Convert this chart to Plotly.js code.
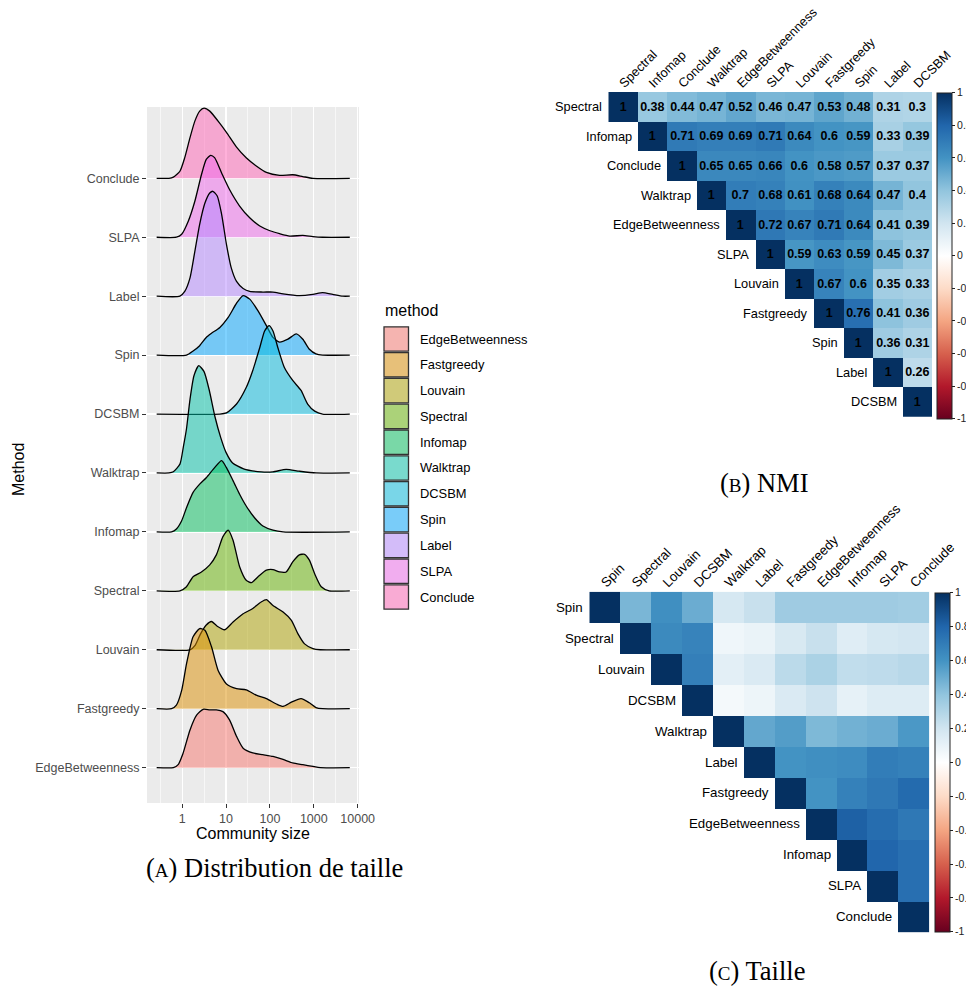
<!DOCTYPE html>
<html><head><meta charset="utf-8">
<script src="https://cdn.plot.ly/plotly-3.0.1.min.js"></script>
<style>html,body{margin:0;padding:0;background:#fff;} #chart{width:966px;height:987px;}</style>
</head><body><div id="chart"></div>
<script>
// ---------- (A) ridgeline data ----------
const methods = ['EdgeBetweenness','Fastgreedy','Louvain','Spectral','Infomap','Walktrap','DCSBM','Spin','Label','SLPA','Conclude'];
const methodColors = ['#F8766D','#DB8E00','#AEA200','#64B200','#00BD5C','#00C1A7','#00BADE','#00A6FF','#B385FF','#EF67EB','#FF63B6'];
const sizeTickVals = [1, 10, 100, 1000, 10000];
const sizeTickText = ['1', '10', '100', '1000', '10000'];
const sizeMinorVals = [0.316, 3.16, 31.6, 316, 3162];

// log10(community size) sample positions and ridge heights
const logEdgeBetweenness = [-0.58,-0.2,-0.09,0.02,0.18,0.33,0.48,0.63,0.78,0.93,1.08,1.24,1.39,1.61,1.84,2.07,2.3,2.52,2.75,2.98,3.15,3.82];
const denEdgeBetweenness = [0,0,0.05,0.24,0.64,0.89,0.99,0.98,0.98,0.95,0.81,0.53,0.33,0.25,0.22,0.19,0.14,0.08,0.05,0.02,0,0];
const logFastgreedy = [-0.58,-0.24,-0.13,-0.01,0.1,0.25,0.4,0.52,0.67,0.82,1.01,1.24,1.46,1.69,1.92,2.15,2.3,2.49,2.71,2.9,3.05,3.2,3.82];
const denFastgreedy = [0,0,0.06,0.31,0.76,1.22,1.36,1.33,1.05,0.65,0.42,0.34,0.32,0.23,0.17,0.08,0.04,0.11,0.17,0.10,0.02,0,0];
const logLouvain = [-0.58,0.18,0.3,0.42,0.55,0.67,0.8,0.97,1.16,1.39,1.61,1.8,1.92,2.07,2.3,2.49,2.64,2.79,2.98,3.15,3.82];
const denLouvain = [0,0,0.08,0.27,0.42,0.48,0.40,0.34,0.47,0.61,0.70,0.81,0.85,0.75,0.64,0.50,0.27,0.10,0.02,0,0];
const logSpectral = [-0.58,-0.05,0.1,0.25,0.44,0.63,0.78,0.93,1.05,1.16,1.31,1.46,1.58,1.73,1.92,2.07,2.22,2.37,2.52,2.67,2.79,2.9,3.02,3.17,3.35,3.82];
const denSpectral = [0,0,0.07,0.24,0.32,0.44,0.61,0.92,1.03,0.86,0.41,0.18,0.14,0.24,0.35,0.36,0.32,0.32,0.49,0.61,0.62,0.52,0.29,0.07,0,0];
const logInfomap = [-0.58,-0.24,-0.13,-0.01,0.1,0.25,0.4,0.55,0.74,0.9,1.01,1.16,1.31,1.46,1.65,1.84,2.07,2.3,3.82];
const denInfomap = [0,0,0.05,0.19,0.41,0.67,0.81,0.92,1.09,1.21,1.09,0.87,0.64,0.44,0.24,0.10,0.03,0,0];
const logWalktrap = [-0.58,-0.3,-0.2,-0.05,0.03,0.1,0.18,0.27,0.38,0.5,0.62,0.75,0.88,1.0,1.15,1.4,1.8,2.07,2.37,2.67,3.05,3.82];
const denWalktrap = [0,0,0.02,0.15,0.45,0.75,1.25,1.65,1.82,1.72,1.40,0.95,0.60,0.35,0.17,0.07,0.02,0.02,0.06,0.03,0,0];
const logDCSBM = [-0.58,0.86,1.01,1.24,1.46,1.61,1.77,1.88,1.98,2.07,2.18,2.33,2.52,2.71,2.86,3.02,3.2,3.82];
const denDCSBM = [0,0,0.02,0.17,0.45,0.74,1.13,1.41,1.50,1.41,1.13,0.79,0.57,0.40,0.17,0.05,0,0];
const logSpin = [-0.58,0.1,0.25,0.4,0.55,0.67,0.86,1.05,1.24,1.39,1.54,1.73,1.92,2.07,2.22,2.41,2.6,2.75,2.9,3.05,3.2,3.82];
const denSpin = [0,0,0.07,0.16,0.30,0.37,0.47,0.64,0.88,1.01,0.95,0.75,0.50,0.30,0.22,0.27,0.36,0.27,0.10,0.02,0,0];
const logLabel = [-0.58,-0.05,0.06,0.18,0.29,0.4,0.52,0.63,0.7,0.8,0.9,1.01,1.12,1.24,1.39,1.54,1.84,2.07,2.3,2.67,2.98,3.2,3.43,3.66,3.82];
const denLabel = [0,0,0.08,0.31,0.76,1.22,1.58,1.75,1.78,1.70,1.39,0.88,0.48,0.25,0.13,0.08,0.07,0.07,0.04,0.01,0.03,0.06,0.03,0,0];
const logSLPA = [-0.58,-0.13,-0.01,0.14,0.29,0.44,0.55,0.65,0.74,0.9,1.08,1.31,1.54,1.77,2.0,2.22,2.45,2.75,2.98,3.2,3.82];
const denSLPA = [0,0,0.05,0.27,0.61,1.06,1.32,1.39,1.35,1.09,0.81,0.53,0.33,0.19,0.11,0.06,0.02,0.03,0.01,0,0];
const logConclude = [-0.58,-0.3,-0.2,-0.05,0.06,0.18,0.29,0.4,0.5,0.63,0.82,1.01,1.24,1.46,1.69,1.92,2.22,2.52,2.75,2.98,3.82];
const denConclude = [0,0,0.02,0.12,0.35,0.69,0.97,1.14,1.19,1.14,0.97,0.78,0.53,0.35,0.21,0.10,0.05,0.06,0.03,0,0];

// ---------- (B) NMI ----------
const nmiOrder = ['Spectral','Infomap','Conclude','Walktrap','EdgeBetweenness','SLPA','Louvain','Fastgreedy','Spin','Label','DCSBM'];
const nmiUpper = [
  [1,0.38,0.44,0.47,0.52,0.46,0.47,0.53,0.48,0.31,0.3],
  [1,0.71,0.69,0.69,0.71,0.64,0.6,0.59,0.33,0.39],
  [1,0.65,0.65,0.66,0.6,0.58,0.57,0.37,0.37],
  [1,0.7,0.68,0.61,0.68,0.64,0.47,0.4],
  [1,0.72,0.67,0.71,0.64,0.41,0.39],
  [1,0.59,0.63,0.59,0.45,0.37],
  [1,0.67,0.6,0.35,0.33],
  [1,0.76,0.41,0.36],
  [1,0.36,0.31],
  [1,0.26],
  [1]
];

// ---------- (C) Taille ----------
const tailleOrder = ['Spin','Spectral','Louvain','DCSBM','Walktrap','Label','Fastgreedy','EdgeBetweenness','Infomap','SLPA','Conclude'];
const tailleUpper = [
  [1,0.46,0.62,0.5,0.18,0.23,0.36,0.36,0.36,0.36,0.35],
  [1,0.64,0.67,0.07,0.09,0.17,0.23,0.14,0.18,0.19],
  [1,0.69,0.12,0.16,0.27,0.32,0.25,0.26,0.28],
  [1,0.05,0.08,0.16,0.21,0.11,0.15,0.15],
  [1,0.52,0.56,0.45,0.48,0.5,0.58],
  [1,0.6,0.62,0.63,0.7,0.68],
  [1,0.6,0.68,0.72,0.78],
  [1,0.82,0.77,0.72],
  [1,0.8,0.76],
  [1,0.76],
  [1]
];

const corrTickVals = [1,0.8,0.6,0.4,0.2,0,-0.2,-0.4,-0.6,-0.8,-1];
const corrTickText = ['1','0.8','0.6','0.4','0.2','0','-0.2','-0.4','-0.6','-0.8','-1'];
const rdbu = [[0,'#67001F'],[0.1,'#B2182B'],[0.2,'#D6604D'],[0.3,'#F4A582'],[0.4,'#FDDBC7'],[0.5,'#FFFFFF'],
              [0.6,'#D1E5F0'],[0.7,'#92C5DE'],[0.8,'#4393C3'],[0.9,'#2166AC'],[1,'#053061']];

// ---------- helpers ----------
const W = 966, H = 987;
const PX = x => x / W, PY = y => 1 - y / H;
function rgba(hex, a) {
  const n = parseInt(hex.slice(1), 16);
  return `rgba(${(n>>16)&255},${(n>>8)&255},${n&255},${a})`;
}
function fullMatrix(upper) {
  const n = upper.length;
  return upper.map((row, i) => {
    const r = new Array(n).fill(null);
    row.forEach((v, k) => { r[i + k] = v; });
    return r;
  });
}
const ridgeLog = {EdgeBetweenness: logEdgeBetweenness, Fastgreedy: logFastgreedy, Louvain: logLouvain, Spectral: logSpectral,
  Infomap: logInfomap, Walktrap: logWalktrap, DCSBM: logDCSBM, Spin: logSpin, Label: logLabel, SLPA: logSLPA, Conclude: logConclude};
const ridgeDen = {EdgeBetweenness: denEdgeBetweenness, Fastgreedy: denFastgreedy, Louvain: denLouvain, Spectral: denSpectral,
  Infomap: denInfomap, Walktrap: denWalktrap, DCSBM: denDCSBM, Spin: denSpin, Label: denLabel, SLPA: denSLPA, Conclude: denConclude};

const FONT = 'Liberation Sans, Arial, Helvetica, sans-serif';
const SERIF = 'Liberation Serif, Times New Roman, serif';

const traces = [];
// ridges drawn from top (Conclude) to bottom so lower ridges overlap upper ones
for (let i = methods.length - 1; i >= 0; i--) {
  const m = methods[i];
  const base = i + 1;
  traces.push({
    type: 'scatter', mode: 'lines', xaxis: 'x', yaxis: 'y',
    x: ridgeLog[m].map(v => Math.pow(10, v)),
    y: ridgeDen[m].map(v => base + v),
    fill: 'toself', fillcolor: rgba(methodColors[i], 0.5),
    line: {color: '#000', width: 1.3, shape: 'spline', smoothing: 0.6},
    hoverinfo: 'skip', name: m, showlegend: false
  });
}

function heat(order, upper, xa, ya, showText, cb) {
  return {
    type: 'heatmap', xaxis: xa, yaxis: ya,
    x: order, y: order, z: fullMatrix(upper),
    zmin: -1, zmax: 1, colorscale: rdbu,
    texttemplate: showText ? '<b>%{z}</b>' : '',
    textfont: {family: FONT, size: 12.5, color: '#000'},
    hoverinfo: 'skip',
    colorbar: Object.assign({
      xanchor: 'left', xpad: 0, ypad: 0, yanchor: 'middle',
      lenmode: 'pixels', thicknessmode: 'pixels', thickness: 15,
      outlinewidth: 1, outlinecolor: '#222',
      tickmode: 'array', tickvals: corrTickVals, ticktext: corrTickText,
      ticks: 'outside', ticklen: 3, tickcolor: '#222',
      tickfont: {family: FONT, size: 10.5, color: '#222'}
    }, cb)
  };
}
traces.push(heat(nmiOrder, nmiUpper, 'x2', 'y2', true,
  {x: PX(937.3), y: PY(255.7), len: 326}));
traces.push(heat(tailleOrder, tailleUpper, 'x3', 'y3', false,
  {x: PX(935), y: PY(762.3), len: 339}));

const annotations = [];
const shapes = [];

// ridge panel background
shapes.push({type: 'rect', xref: 'x domain', yref: 'y domain', x0: 0, x1: 1, y0: 0, y1: 1,
  fillcolor: '#EBEBEB', line: {width: 0}, layer: 'below'});

// axis titles for (A)
annotations.push({xref: 'paper', yref: 'paper', x: PX(253), y: PY(833), text: 'Community size',
  showarrow: false, font: {family: FONT, size: 16, color: '#000'}, xanchor: 'center', yanchor: 'middle'});
annotations.push({xref: 'paper', yref: 'paper', x: PX(18), y: PY(470), text: 'Method', textangle: -90,
  showarrow: false, font: {family: FONT, size: 16, color: '#000'}, xanchor: 'center', yanchor: 'middle'});

// legend for (A)
annotations.push({xref: 'paper', yref: 'paper', x: PX(383), y: PY(310), text: 'method',
  showarrow: false, font: {family: FONT, size: 16, color: '#000'}, xanchor: 'left', yanchor: 'middle'});
methods.forEach((m, i) => {
  const yc = 339 + i * 25.8;
  shapes.push({type: 'rect', xref: 'paper', yref: 'paper', x0: PX(384), x1: PX(408.5), y0: PY(yc + 12.2), y1: PY(yc - 12.2),
    fillcolor: '#F2F2F2', line: {width: 0}});
  shapes.push({type: 'rect', xref: 'paper', yref: 'paper', x0: PX(384), x1: PX(408.5), y0: PY(yc + 12.2), y1: PY(yc - 12.2),
    fillcolor: rgba(methodColors[i], 0.5), line: {color: '#333', width: 1.3}});
  annotations.push({xref: 'paper', yref: 'paper', x: PX(418), y: PY(yc), text: m,
    showarrow: false, font: {family: FONT, size: 12.9, color: '#000'}, xanchor: 'left', yanchor: 'middle'});
});

// staircase row labels for heatmaps
nmiOrder.forEach((m, i) => annotations.push({xref: 'x2', yref: 'y2', x: i - 0.5, y: i, text: m, xshift: -4,
  showarrow: false, font: {family: FONT, size: 12.8, color: '#000'}, xanchor: 'right', yanchor: 'middle'}));
tailleOrder.forEach((m, i) => annotations.push({xref: 'x3', yref: 'y3', x: i - 0.5, y: i, text: m, xshift: -4,
  showarrow: false, font: {family: FONT, size: 13.3, color: '#000'}, xanchor: 'right', yanchor: 'middle'}));

// captions
const cap = (x, y, letter, rest) => annotations.push({xref: 'paper', yref: 'paper', x: PX(x), y: PY(y),
  text: '(<span style="font-size:19px">' + letter + '</span>) ' + rest,
  showarrow: false, font: {family: SERIF, size: 26.5, color: '#000'}, xanchor: 'center', yanchor: 'middle'});
cap(274, 868, 'A', 'Distribution de taille');
cap(764, 483, 'B', 'NMI');
cap(757, 971, 'C', 'Taille');

const noGrid = {showgrid: false, zeroline: false, showline: false};
const layout = {
  width: W, height: H, margin: {l: 0, r: 0, t: 0, b: 0, autoexpand: false},
  paper_bgcolor: '#fff', plot_bgcolor: 'rgba(0,0,0,0)', showlegend: false,
  font: {family: FONT},
  xaxis: {domain: [PX(147), PX(359)], anchor: 'y', type: 'log', range: [-0.8, 4.03],
    tickmode: 'array', tickvals: sizeTickVals, ticktext: sizeTickText,
    ticks: 'outside', ticklen: 4, tickcolor: '#333', tickwidth: 1,
    tickfont: {family: FONT, size: 12.5, color: '#4D4D4D'},
    showgrid: true, gridcolor: '#fff', gridwidth: 1.2, zeroline: false, showline: false,
    minor: {tickmode: 'array', tickvals: sizeMinorVals, showgrid: true, gridcolor: '#fff', gridwidth: 0.6, ticks: ''}},
  yaxis: {domain: [PY(803), PY(107)], anchor: 'x', range: [0.4, 12.21],
    tickmode: 'array', tickvals: methods.map((m, i) => i + 1), ticktext: methods,
    ticks: 'outside', ticklen: 4, tickcolor: '#333', tickwidth: 1,
    tickfont: {family: FONT, size: 12.5, color: '#4D4D4D'},
    showgrid: true, gridcolor: '#fff', gridwidth: 1.2, zeroline: false, showline: false},
  xaxis2: Object.assign({domain: [PX(608.3), PX(932)], anchor: 'y2', type: 'category', side: 'top',
    range: [-0.5, 10.5], tickangle: -45, ticks: '', ticklabelshift: -3, ticklabelstandoff: -2,
    tickfont: {family: FONT, size: 12.8, color: '#000'}}, noGrid),
  yaxis2: Object.assign({domain: [PY(416.7), PY(92)], anchor: 'x2', type: 'category',
    range: [10.5, -0.5], showticklabels: false, ticks: ''}, noGrid),
  xaxis3: Object.assign({domain: [PX(589.3), PX(929.3)], anchor: 'y3', type: 'category', side: 'top',
    range: [-0.5, 10.5], tickangle: -45, ticks: '', ticklabelshift: -3, ticklabelstandoff: -2,
    tickfont: {family: FONT, size: 13.3, color: '#000'}}, noGrid),
  yaxis3: Object.assign({domain: [PY(932.3), PY(591.7)], anchor: 'x3', type: 'category',
    range: [10.5, -0.5], showticklabels: false, ticks: ''}, noGrid),
  shapes: shapes,
  annotations: annotations
};

Plotly.newPlot('chart', traces, layout, {staticPlot: true, displayModeBar: false});
</script>
</body></html>
